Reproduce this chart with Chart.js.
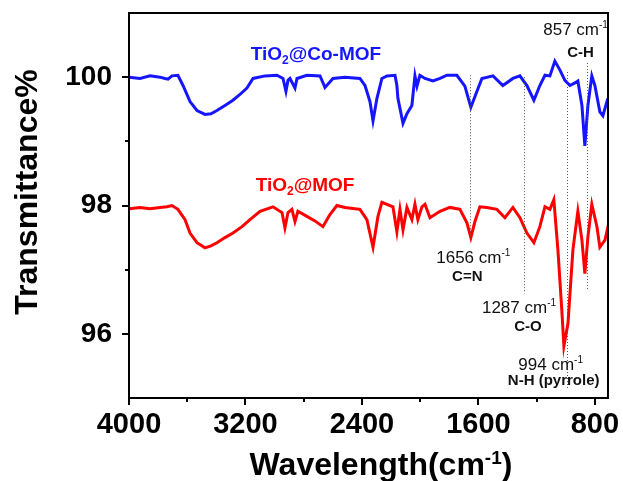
<!DOCTYPE html>
<html>
<head>
<meta charset="utf-8">
<script src="https://cdn.jsdelivr.net/npm/chart.js@4.4.0/dist/chart.umd.min.js"></script>
<style>
  html, body { margin: 0; padding: 0; background: #fff; }
  #ftir { display: block; }
</style>
</head>
<body>
<canvas id="ftir" width="623" height="481"></canvas>
<script>
const FONT = "'Liberation Sans', Arial, sans-serif";

// axis ticks
const xTicks = [4000, 3600, 3200, 2800, 2400, 2000, 1600, 1200, 800];
const xLabels = [4000, 3200, 2400, 1600, 800];
const yTicks = [96, 97, 98, 99, 100];
const yLabels = [96, 98, 100];

// TiO2@Co-MOF spectrum (wavenumber, transmittance %)
const coMofWave = [4000, 3924, 3856, 3787, 3753, 3732, 3705, 3664, 3629, 3581,
  3533, 3478, 3437, 3396, 3341, 3286, 3238, 3190, 3148, 3066,
  2984, 2942, 2922, 2908, 2894, 2860, 2846, 2778, 2688, 2654,
  2599, 2517, 2414, 2379, 2345, 2324, 2297, 2263, 2228, 2173,
  2160, 2153, 2118, 2091, 2057, 2036, 2022, 2002, 1967, 1912,
  1864, 1816, 1748, 1693, 1652, 1610, 1576, 1500, 1432, 1363,
  1315, 1267, 1219, 1178, 1143, 1109, 1075, 1040, 1006, 972,
  937, 917, 889, 869, 848, 821, 800, 766, 745, 711];
const coMofT = [100.00, 99.98, 100.02, 100.00, 99.98, 99.97, 100.02, 100.03, 99.87, 99.62,
  99.48, 99.42, 99.43, 99.48, 99.56, 99.64, 99.73, 99.83, 99.98, 100.02,
  100.03, 99.98, 99.78, 99.95, 99.98, 99.83, 99.98, 100.03, 100.02, 99.84,
  99.98, 100.00, 99.98, 99.87, 99.62, 99.32, 99.67, 99.98, 100.02, 100.03,
  99.87, 99.67, 99.28, 99.43, 99.56, 100.02, 99.86, 100.03, 99.98, 99.94,
  99.98, 100.03, 100.03, 99.86, 99.53, 99.78, 99.98, 100.02, 99.87, 99.98,
  100.02, 99.87, 99.64, 99.87, 100.03, 100.02, 100.25, 100.11, 99.95, 99.87,
  99.91, 99.94, 99.56, 98.93, 99.56, 100.02, 99.87, 99.46, 99.40, 99.67];

// TiO2@MOF spectrum
const mofWave = [4000, 3924, 3856, 3787, 3739, 3705, 3664, 3615, 3581, 3533,
  3478, 3437, 3396, 3341, 3286, 3224, 3169, 3100, 3011, 2949,
  2929, 2908, 2881, 2860, 2840, 2778, 2723, 2668, 2620, 2572,
  2517, 2448, 2414, 2366, 2324, 2290, 2263, 2187, 2160, 2139,
  2118, 2091, 2057, 2036, 2016, 1988, 1967, 1933, 1864, 1796,
  1727, 1679, 1652, 1624, 1590, 1542, 1473, 1418, 1363, 1315,
  1267, 1219, 1178, 1143, 1109, 1082, 1054, 1027, 1013, 985,
  951, 917, 889, 869, 848, 821, 786, 766, 731, 704];
const mofT = [97.95, 97.97, 97.95, 97.97, 97.98, 98.00, 97.94, 97.78, 97.57, 97.42,
  97.34, 97.37, 97.42, 97.50, 97.57, 97.67, 97.78, 97.91, 97.98, 97.89,
  97.65, 97.89, 97.94, 97.75, 97.91, 97.83, 97.76, 97.67, 97.86, 98.00,
  97.97, 97.95, 97.94, 97.78, 97.35, 97.83, 98.05, 97.98, 97.59, 97.94,
  97.62, 97.97, 97.78, 98.02, 97.78, 97.98, 98.02, 97.81, 97.91, 97.97,
  97.94, 97.73, 97.50, 97.75, 97.98, 97.97, 97.94, 97.81, 97.97, 97.81,
  97.57, 97.42, 97.67, 97.98, 97.94, 98.09, 97.31, 96.36, 95.81, 96.16,
  97.31, 97.91, 97.46, 96.94, 97.51, 98.02, 97.67, 97.35, 97.46, 97.73];

// assigned bands, with the span of each guide line in transmittance
const peakWave = [1656, 1287, 994, 857];
const peakBond = ['C=N', 'C-O', 'N-H (pyrrole)', 'C-H'];
const peakTop = [100.03, 100.00, 100.08, 100.22];
const peakBottom = [97.50, 96.63, 95.15, 96.68];

const seriesNames = ['TiO2@Co-MOF', 'TiO2@MOF'];
const seriesColors = ['#1515ff', '#ff0000'];

// where the band labels sit: pixel shift from the guide line, baseline in %T
const peakLabelPos = [
  { numDx: 3, numY: 97.10, bondDx: -3, bondY: 96.83 },
  { numDx: -5, numY: 96.33, bondDx: 4, bondY: 96.05 },
  { numDx: -16, numY: 95.43, bondDx: -13, bondY: 95.21 },
  { numDx: -11, numY: 100.66, bondDx: -6, bondY: 100.31 }
];
// series name anchors (centre wavenumber, baseline %T)
const seriesLabelPos = [
  { x: 2716, y: 100.27 },
  { x: 2791, y: 98.22 }
];

function toPoints(wave, t) {
  return wave.map((w, i) => ({ x: w, y: t[i] }));
}

function drawRich(ctx, segs, x, y, color) {
  let total = 0;
  segs.forEach(s => {
    ctx.font = (s.bold ? 'bold ' : '') + s.size + 'px ' + FONT;
    s.w = ctx.measureText(s.t).width;
    total += s.w;
  });
  let cx = x - total / 2;
  ctx.fillStyle = color;
  ctx.textAlign = 'left';
  ctx.textBaseline = 'alphabetic';
  segs.forEach(s => {
    ctx.font = (s.bold ? 'bold ' : '') + s.size + 'px ' + FONT;
    ctx.fillText(s.t, cx, y + (s.dy || 0));
    cx += s.w;
  });
}

// "TiO2@..." with the 2 lowered
function chemSegs(name, size) {
  const i = name.indexOf('2');
  return [
    { t: name.slice(0, i), size: size, bold: true },
    { t: '2', size: Math.round(size * 0.62), bold: true, dy: 4 },
    { t: name.slice(i + 1), size: size, bold: true }
  ];
}

function waveSegs(num, size) {
  return [
    { t: num + ' cm', size: size },
    { t: '-1', size: 10, dy: -7 }
  ];
}

const annotations = {
  id: 'annotations',
  afterDatasetsDraw(chart) {
    const ctx = chart.ctx;
    const xs = chart.scales.x, ys = chart.scales.y;
    ctx.save();

    // dotted guide lines
    ctx.strokeStyle = '#555';
    ctx.lineWidth = 1;
    ctx.setLineDash([1, 2]);
    peakWave.forEach((w, i) => {
      const px = Math.round(xs.getPixelForValue(w)) + 0.5;
      ctx.beginPath();
      ctx.moveTo(px, ys.getPixelForValue(peakTop[i]));
      ctx.lineTo(px, ys.getPixelForValue(peakBottom[i]));
      ctx.stroke();
    });
    ctx.setLineDash([]);

    // band labels
    peakWave.forEach((w, i) => {
      const px = xs.getPixelForValue(w);
      const pos = peakLabelPos[i];
      drawRich(ctx, waveSegs(w, 17), px + pos.numDx, ys.getPixelForValue(pos.numY), '#111');
      drawRich(ctx, [{ t: peakBond[i], size: 15, bold: true }], px + pos.bondDx, ys.getPixelForValue(pos.bondY), '#111');
    });

    // series names
    seriesNames.forEach((name, i) => {
      const pos = seriesLabelPos[i];
      drawRich(ctx, chemSegs(name, 19), xs.getPixelForValue(pos.x), ys.getPixelForValue(pos.y), seriesColors[i]);
    });
    ctx.restore();
  },
  afterDraw(chart) {
    const ctx = chart.ctx;
    const a = chart.chartArea;
    const xs = chart.scales.x, ys = chart.scales.y;
    ctx.save();
    // box frame
    ctx.strokeStyle = '#000';
    ctx.lineWidth = 2;
    ctx.strokeRect(a.left, a.top, a.right - a.left, a.bottom - a.top);

    // outward ticks, labelled ones longer
    ctx.beginPath();
    xTicks.forEach(v => {
      const px = Math.round(xs.getPixelForValue(v));
      const len = xLabels.includes(v) ? 7 : 4;
      ctx.moveTo(px, a.bottom);
      ctx.lineTo(px, a.bottom + len);
    });
    yTicks.forEach(v => {
      const py = Math.round(ys.getPixelForValue(v));
      const len = yLabels.includes(v) ? 7 : 4;
      ctx.moveTo(a.left, py);
      ctx.lineTo(a.left - len, py);
    });
    ctx.stroke();

    // axis titles
    drawRich(ctx, [
      { t: 'Wavelength(cm', size: 32, bold: true },
      { t: '-1', size: 19, bold: true, dy: -11 },
      { t: ')', size: 32, bold: true }
    ], 381, 475, '#000');

    ctx.translate(37, 192);
    ctx.rotate(-Math.PI / 2);
    drawRich(ctx, [{ t: 'Transmittance%', size: 32, bold: true }], 0, 0, '#000');
    ctx.restore();
  }
};

new Chart(document.getElementById('ftir'), {
  type: 'line',
  data: {
    datasets: [
      {
        label: seriesNames[0],
        data: toPoints(coMofWave, coMofT),
        borderColor: seriesColors[0],
        borderWidth: 3,
        pointRadius: 0,
        tension: 0
      },
      {
        label: seriesNames[1],
        data: toPoints(mofWave, mofT),
        borderColor: seriesColors[1],
        borderWidth: 3,
        pointRadius: 0,
        tension: 0
      }
    ]
  },
  options: {
    responsive: false,
    animation: false,
    devicePixelRatio: 1,
    layout: { padding: { top: 13, right: 15, left: 0, bottom: 0 } },
    plugins: { legend: { display: false }, tooltip: { enabled: false } },
    scales: {
      x: {
        type: 'linear',
        reverse: true,
        min: 710,
        max: 4000,
        afterBuildTicks: s => { s.ticks = xTicks.map(v => ({ value: v })); },
        afterFit: s => { s.height = 83; s.paddingLeft = 0; s.paddingRight = 0; },
        grid: { drawOnChartArea: false, drawTicks: true, tickLength: 6, tickColor: 'rgba(0,0,0,0)' },
        border: { display: true, color: '#000', width: 2 },
        ticks: {
          autoSkip: false,
          maxRotation: 0,
          padding: 4,
          color: '#000',
          font: { family: FONT, size: 29, weight: 'bold' },
          callback: v => xLabels.includes(v) ? String(v) : ''
        }
      },
      y: {
        min: 95,
        max: 101,
        afterBuildTicks: s => { s.ticks = yTicks.map(v => ({ value: v })); },
        afterFit: s => { s.width = 129; s.paddingTop = 0; s.paddingBottom = 0; },
        grid: { drawOnChartArea: false, drawTicks: true, tickLength: 6, tickColor: 'rgba(0,0,0,0)' },
        border: { display: true, color: '#000', width: 2 },
        ticks: {
          autoSkip: false,
          padding: 11,
          color: '#000',
          font: { family: FONT, size: 28, weight: 'bold' },
          callback: v => yLabels.includes(v) ? String(v) : ''
        }
      }
    }
  },
  plugins: [annotations]
});
</script>
</body>
</html>
